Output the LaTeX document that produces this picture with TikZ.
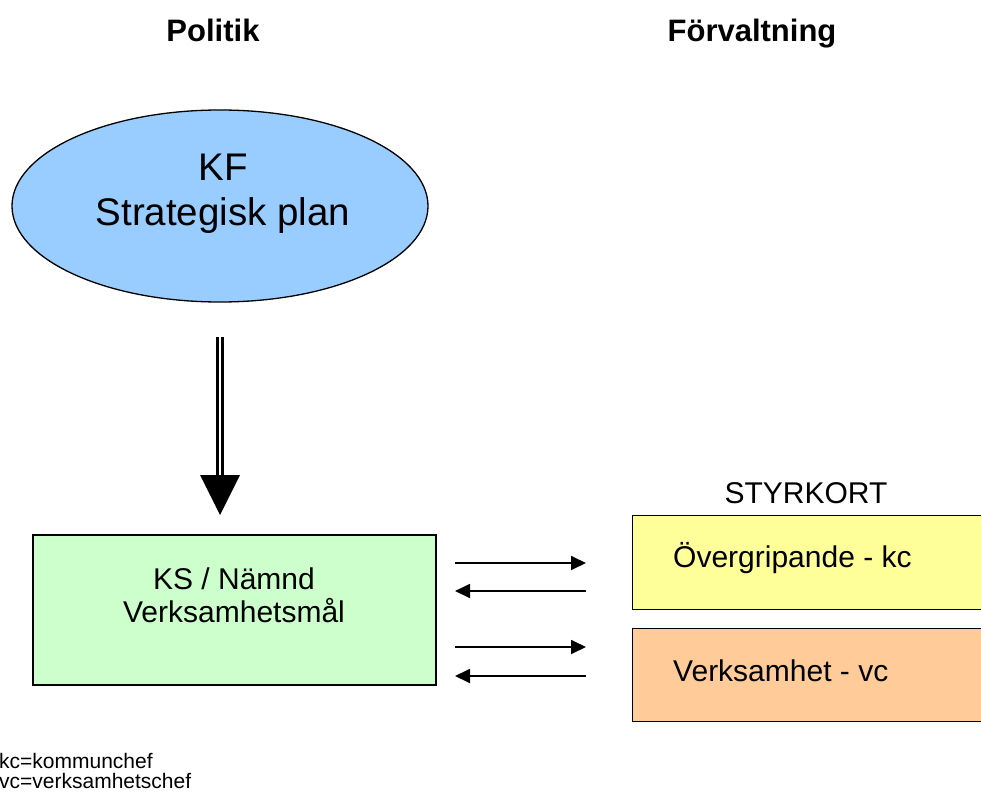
\documentclass[tikz,border=0pt]{standalone}
\usepackage{fontspec}
\setmainfont{Liberation Sans}
\usetikzlibrary{shapes.geometric,arrows.meta}
\definecolor{kfblue}{HTML}{99CCFF}
\definecolor{ksgreen}{HTML}{CCFFCC}
\definecolor{ovyellow}{HTML}{FFFF99}
\definecolor{vhorange}{HTML}{FFCC99}
\tikzset{
  heading/.style={font=\fontsize{31}{37}\selectfont\bfseries, inner sep=0pt, anchor=base},
  boxtext/.style={font=\fontsize{30}{34}\selectfont, inner sep=0pt},
  cardbox/.style={draw=black, line width=1.3pt, anchor=north west, inner sep=0pt},
  flow/.style={line width=1.8pt, -{Triangle[length=15pt,width=14pt]}},
  note/.style={font=\fontsize{21}{23}\selectfont, inner sep=0pt, anchor=base west}
}
\begin{document}
\begin{tikzpicture}[x=1pt,y=-1pt]
\useasboundingbox (0,0) rectangle (981,794);
\begin{scope}
\clip (0,0) rectangle (981,794);
% headings
\node[heading] (pol) at (213,42) {Politik};
\node[heading] (forv) at (752,42) {Förvaltning};
% ellipse
\node[ellipse, draw=black, line width=1.3pt, fill=kfblue, minimum width=416pt, minimum height=192pt, inner sep=0pt] (kf) at (220,206) {};
\node[align=center, inner sep=0pt, font=\fontsize{38.5}{45}\selectfont] (kft) at (223,194) {KF\\Strategisk plan};
% double arrow
\coordinate (s1) at (220,337);
\coordinate (s2) at (220,478);
\coordinate (tip) at (220,515);
\draw[line width=2.8pt, double=white, double distance=1.6pt] (s1) -- (s2);
\fill[black] (200,475) -- (240,475) -- (tip) -- cycle;
% KS box
\node[draw=black, line width=1.3pt, fill=ksgreen, minimum width=403pt, minimum height=150pt, inner sep=0pt] (ks) at (234.5,610) {};
\node[align=center, inner sep=0pt, font=\fontsize{30}{33}\selectfont] (kst) at (234,595) {KS / Nämnd\\Verksamhetsmål};
% Styrkort
\node[boxtext] (sty) at (806,493) {STYRKORT};
\node[cardbox, fill=ovyellow, minimum width=360pt, minimum height=94pt] (ov) at (632,515) {};
\node[boxtext, anchor=west] (ovt) at (673,558) {Övergripande - kc};
\node[cardbox, fill=vhorange, minimum width=360pt, minimum height=93pt] (vh) at (632,628) {};
\node[boxtext, anchor=west] (vht) at (673,671) {Verksamhet - vc};
% arrows
\coordinate (a1s) at (455,563); \coordinate (a1e) at (586,563);
\coordinate (a2s) at (586,591); \coordinate (a2e) at (455,591);
\coordinate (a3s) at (455,647); \coordinate (a3e) at (586,647);
\coordinate (a4s) at (586,676); \coordinate (a4e) at (455,676);
\draw[flow] (a1s) -- (a1e);
\draw[flow] (a2s) -- (a2e);
\draw[flow] (a3s) -- (a3e);
\draw[flow] (a4s) -- (a4e);
% notes
\node[note] (n1) at (-1,768) {kc=kommunchef};
\node[note] (n2) at (-1,788) {vc=verksamhetschef};
\end{scope}
\end{tikzpicture}
\end{document}
